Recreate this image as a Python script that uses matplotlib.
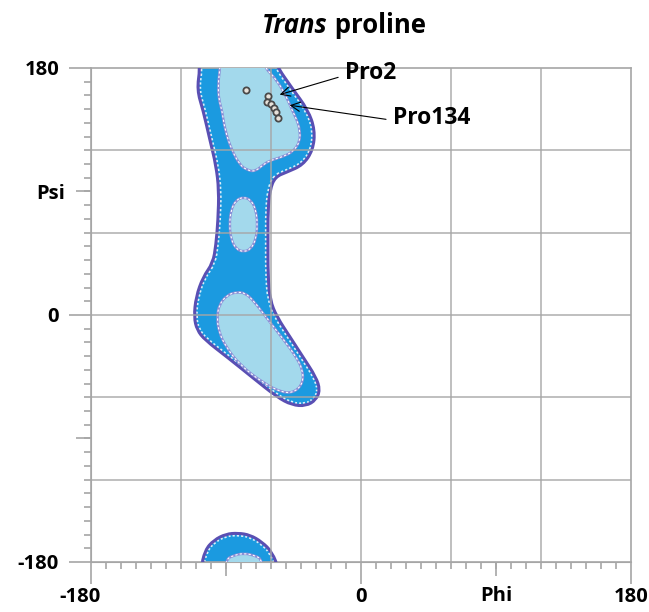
import numpy as np
import matplotlib
matplotlib.use('Agg')
import matplotlib.pyplot as plt
from matplotlib.ticker import MultipleLocator
from matplotlib.path import Path
from matplotlib.patches import PathPatch
from matplotlib.transforms import ScaledTranslation

plt.rcParams['font.family'] = ['Open Sans', 'DejaVu Sans']
plt.rcParams['font.weight'] = 'bold'
plt.rcParams['lines.scale_dashes'] = False

# outer (allowed) region, main blob
outer_phi = [-108.7, -107.3, -109.3, -105.3, -100.7, -96.7, -94.7, -95.3, -96.7, -98.7,
             -105.3, -110.0, -111.3, -109.3, -104.0, -89.3, -72.7, -56.0, -46.0, -36.7,
             -30.0, -27.3, -30.0, -38.7, -47.3, -56.0, -60.7, -62.0, -62.0, -62.0,
             -60.7, -57.3, -49.3, -38.7, -32.0, -30.7, -35.3, -46.0, -55.3, -58.0]
outer_psi = [187.3, 180.0, 164.0, 149.4, 127.5, 109.3, 91.1, 69.2, 51.0, 37.9,
             27.7, 13.1, -1.5, -10.9, -18.2, -30.6, -45.2, -59.8, -65.6, -66.3,
             -61.9, -54.6, -45.2, -30.6, -16.0, -1.5, 10.9, 29.2, 54.7, 76.5,
             91.1, 100.6, 104.2, 109.3, 120.2, 134.8, 149.4, 165.4, 180.0, 187.3]

# outer region wrapping round to the bottom edge
bottom_phi = [-107.0, -104.0, -98.0, -90.0, -82.0, -74.0, -66.0, -59.3, -54.5]
bottom_psi = [-186.0, -171.3, -164.0, -159.6, -158.9, -160.3, -165.4, -172.7, -186.0]

# core (favoured) regions
core_top_phi = [-94.0, -94.0, -95.3, -94.7, -92.7, -90.7, -86.2, -80.7, -76.0, -70.7,
                -64.0, -59.3, -52.0, -45.3, -40.7, -40.7, -42.7, -46.0, -48.7, -56.0,
                -64.0, -66.0]
core_top_psi = [187.3, 180.0, 167.6, 156.7, 149.4, 134.8, 120.2, 109.3, 105.7, 104.4,
                110.6, 113.0, 115.4, 119.0, 126.3, 134.8, 142.1, 149.4, 156.7, 171.3,
                180.0, 187.3]

core_mid_phi = [-78.3, -73.3, -70.0, -69.0, -70.0, -73.3, -78.3, -83.3, -86.7, -87.7, -86.7, -83.3]
core_mid_psi = [86.0, 83.8, 76.5, 66.0, 55.4, 48.1, 45.9, 48.1, 55.4, 66.0, 76.5, 83.8]

core_low_phi = [-82.7, -89.3, -94.7, -96.0, -94.7, -90.0, -80.7, -65.3, -52.0, -44.0,
                -38.7, -38.7, -44.0, -54.0, -63.3, -72.0, -77.3]
core_low_psi = [16.8, 14.6, 7.3, -2.2, -12.4, -23.3, -36.4, -49.5, -56.8, -56.1,
                -49.5, -40.1, -29.1, -14.6, -1.5, 10.9, 16.0]

core_bot_phi = [-91.0, -89.5, -86.0, -78.0, -70.0, -66.5, -65.0]
core_bot_psi = [-186.0, -178.0, -175.6, -173.4, -175.6, -178.0, -186.0]

# residues
res_phi = [-76.7, -62.2, -62.9, -60.0, -58.2, -56.9, -55.5]
res_psi = [164.0, 159.6, 155.4, 153.5, 150.9, 147.7, 143.8]

labels = ['Pro2', 'Pro134']
label_xy = [(-55.1, 160.3), (-48.5, 153.0)]
label_text_xy = [(-10.7, 176.4), (21.3, 143.6)]

xtick_vals = [-180, 0, 180]
xtick_labels = ['-180', '0', '180']
ytick_vals = [-180, 0, 180]
ytick_labels = ['-180', '0', '180']

blue = '#1b9ae0'
light = '#a3d9ec'
purple = '#5a4fb3'
lavender = '#8b8fd6'
gray = '#a6a6a6'

fig = plt.figure(figsize=(6.49, 6.12), dpi=100)
ax = fig.add_axes([0.1402, 0.0817, 0.8320, 0.8072])
ax.set_xlim(-180, 180)
ax.set_ylim(-180, 180)


def smooth_path(phi, psi):
    # closed quadratic spline through the outline vertices
    pts = np.column_stack([phi, psi])
    mids = (pts + np.roll(pts, -1, axis=0)) / 2
    verts = [mids[-1]]
    codes = [Path.MOVETO]
    for p, m in zip(pts, mids):
        verts += [p, m]
        codes += [Path.CURVE3, Path.CURVE3]
    return Path(verts, codes)


def outer_region(phi, psi):
    path = smooth_path(phi, psi)
    body = ax.add_patch(PathPatch(path, facecolor=blue, edgecolor='none', zorder=1))
    dash = ax.add_patch(PathPatch(path, fill=False, edgecolor='white', lw=4.5,
                                  ls=(0, (1.6, 1.6)), alpha=0.85, zorder=2))
    dash.set_clip_path(body)
    ax.add_patch(PathPatch(path, fill=False, edgecolor=purple, lw=2.2, zorder=3))


def core_region(phi, psi):
    path = smooth_path(phi, psi)
    ax.add_patch(PathPatch(path, facecolor=light, edgecolor=lavender, lw=1.8, zorder=4))
    ax.add_patch(PathPatch(path, fill=False, edgecolor='white', lw=0.8,
                           ls=(0, (1.6, 1.6)), zorder=6))


outer_region(outer_phi, outer_psi)
outer_region(bottom_phi, bottom_psi)
core_region(core_top_phi, core_top_psi)
core_region(core_mid_phi, core_mid_psi)
core_region(core_low_phi, core_low_psi)
core_region(core_bot_phi, core_bot_psi)

# grid every 60 degrees, drawn over the regions
for g in np.arange(-120, 121, 60):
    ax.axvline(g, color=gray, lw=1.2, alpha=0.85, zorder=7)
    ax.axhline(g, color=gray, lw=1.2, alpha=0.85, zorder=7)

ax.plot(res_phi, res_psi, 'o', ms=4.5, mfc='#e8e2da', mec='#4a4a4a', mew=1.3, zorder=10)

for lab, xy, txy in zip(labels, label_xy, label_text_xy):
    ax.annotate(lab, xy=xy, xytext=txy, ha='left', va='center', fontsize=16.5,
                fontweight='bold', zorder=11,
                arrowprops=dict(arrowstyle='->', color='black', lw=0.8,
                                shrinkA=3, shrinkB=1, relpos=(0, 0.4)))

for s in ax.spines.values():
    s.set_color(gray)
    s.set_linewidth(1.2)

ax.set_xticks(xtick_vals, xtick_labels)
ax.set_yticks(ytick_vals, ytick_labels)
ax.xaxis.set_minor_locator(MultipleLocator(10))
ax.yaxis.set_minor_locator(MultipleLocator(10))
ax.tick_params(which='major', length=16, width=1.2, color=gray, labelsize=14.5)
ax.tick_params(axis='x', which='major', pad=2)
ax.tick_params(axis='y', which='major', pad=7)
ax.tick_params(which='minor', length=5, width=1.2, color=gray)
first = ax.get_xticklabels()[0]
first.set_transform(first.get_transform() + ScaledTranslation(-8 / 72, 0, fig.dpi_scale_trans))

secx = ax.secondary_xaxis('bottom')
secx.set_xticks([-90, 90], ['', 'Phi'])
secx.tick_params(length=10, width=1.2, color=gray, labelsize=14.5, pad=7)
secx.spines['bottom'].set_color(gray)
secy = ax.secondary_yaxis('left')
secy.set_yticks([-90, 90], ['', 'Psi'])
secy.tick_params(length=11, width=1.2, color=gray, labelsize=14.5, pad=8)
secy.spines['left'].set_color(gray)

t1 = fig.text(0.404, 0.946, 'Trans', fontsize=18.5, fontweight='bold',
              style='italic', va='baseline')
ax.annotate(' proline', xy=(1, 0), xycoords=t1, va='bottom', ha='left',
            fontsize=18.5, fontweight='bold', annotation_clip=False)

fig.savefig('out.png', dpi=100)
